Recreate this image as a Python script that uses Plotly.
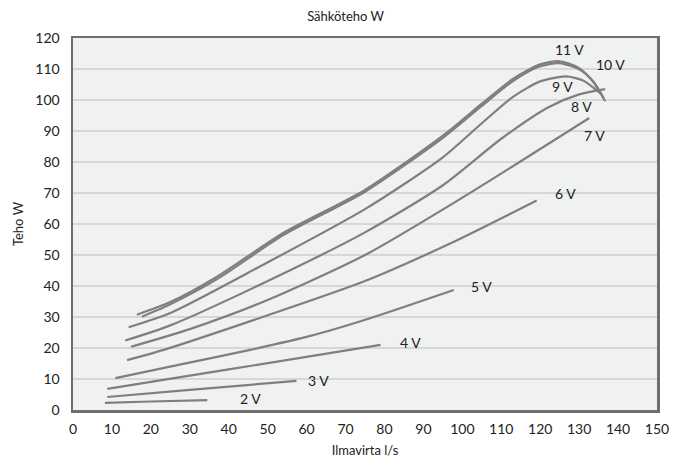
import plotly.graph_objects as go

# ---- data ----
labels = ["2 V", "3 V", "4 V", "5 V", "6 V", "7 V", "8 V", "9 V", "10 V", "11 V"]

v2_x = [8.2, 20, 34.5]
v2_y = [2.3, 2.75, 3.2]

v3_x = [8.8, 30, 57.4]
v3_y = [4.2, 6.5, 9.4]

v4_x = [8.8, 40, 79]
v4_y = [6.8, 13.1, 21.0]

v5_x = [10.9, 28, 45.5, 61, 76.3, 97.8]
v5_y = [10.3, 14.8, 19.4, 23.9, 29.6, 38.7]

v6_x = [13.9, 23.3, 48, 75, 97, 119.1]
v6_y = [16.1, 19.4, 29.7, 41.6, 53.8, 67.6]

v7_x = [14.9, 30, 50, 75, 100, 132.6]
v7_y = [20.4, 26.1, 35.5, 50.0, 68.5, 94.2]

v8_x = [13.4, 25, 48, 75, 95, 110, 122, 130, 136.7]
v8_y = [22.4, 27.3, 40.4, 57.3, 72.5, 87.5, 97.6, 101.8, 103.5]

v9_x = [14.3, 25, 48, 75, 95, 105, 113, 120, 126.6, 131, 135.8]
v9_y = [26.7, 31.3, 46.3, 64.8, 81.5, 92.5, 101.0, 106.0, 107.6, 106.3, 101.8]

v10_x = [17.7, 25, 37, 54, 75, 95, 105, 113, 119.8, 124.9, 130, 133.5, 136.3]
v10_y = [30.1, 34.1, 42.2, 56.4, 70.4, 87.8, 98.1, 106.1, 110.8, 111.9, 109.9, 106.2, 100.6]

v11_x = [16.4, 25, 37, 54, 75, 95, 105, 113, 119.8, 124.9, 130, 133.5, 136.7]
v11_y = [30.7, 34.8, 43.0, 57.1, 71.0, 88.5, 98.8, 106.8, 111.4, 112.5, 110.3, 106.0, 99.6]

xs = [v2_x, v3_x, v4_x, v5_x, v6_x, v7_x, v8_x, v9_x, v10_x, v11_x]
ys = [v2_y, v3_y, v4_y, v5_y, v6_y, v7_y, v8_y, v9_y, v10_y, v11_y]

x_ticks = list(range(0, 151, 10))
y_ticks = list(range(0, 121, 10))

# label offsets (pixels) relative to each curve's end point
label_dx = [31, 10, 17, 15, 16, -7, -36, -52, -10, -52]
label_dy = [1.5, 0, 2, 4, 7, -17.5, -17, 8, 34, 52]

FONT = "Lato, 'Open Sans', sans-serif"
LINE_COLOR = "#7f7f7f"
TEXT = "#222222"

fig = go.Figure()
for name, x, y in zip(labels, xs, ys):
    fig.add_trace(go.Scatter(
        x=x, y=y, mode="lines", name=name,
        line=dict(color=LINE_COLOR, width=2.2, shape="spline", smoothing=0.7),
        showlegend=False, hoverinfo="skip",
    ))

for name, x, y, dx, dy in zip(labels, xs, ys, label_dx, label_dy):
    fig.add_annotation(
        x=x[-1], y=y[-1], text=name, showarrow=False,
        xanchor="left", yanchor="middle", xshift=dx, yshift=dy,
        font=dict(family=FONT, size=14, color=TEXT),
    )

fig.update_layout(
    width=675, height=461,
    margin=dict(l=72.7, r=18, t=38.3, b=51, pad=0, autoexpand=False),
    paper_bgcolor="white",
    plot_bgcolor="#f0f1f1",
    font=dict(family=FONT, size=14, color=TEXT),
    title=dict(text="Sähköteho W", x=0.512, xref="container", xanchor="center",
               y=1 - 16 / 461, yref="container", yanchor="middle", automargin=False,
               font=dict(family=FONT, size=13, color=TEXT)),
)
fig.update_xaxes(
    range=[0, 150], tickvals=x_ticks, ticktext=[str(v) for v in x_ticks],
    showgrid=False, zeroline=False, automargin=False,
    showline=True, linecolor="#6e6e6e", linewidth=2.5, mirror=True,
    ticks="", ticklabelstandoff=5,
    tickfont=dict(family=FONT, size=14, color=TEXT),
    title=dict(text="Ilmavirta l/s", standoff=10,
               font=dict(family=FONT, size=13, color=TEXT)),
)
fig.update_yaxes(
    range=[0, 120], tickvals=y_ticks, ticktext=[str(v) for v in y_ticks],
    showgrid=True, gridcolor="#d6d8d8", gridwidth=1.5, zeroline=False, automargin=False,
    showline=True, linecolor="#6e6e6e", linewidth=2.5, mirror=True,
    ticks="", ticklabelstandoff=8,
    tickfont=dict(family=FONT, size=14, color=TEXT),
    title=dict(text="Teho W", standoff=9,
               font=dict(family=FONT, size=13, color=TEXT)),
)

fig.write_html("out.html", config={"displayModeBar": False, "staticPlot": True})

# remove the browser's default page margin so the figure sits at the top-left corner
with open("out.html", "r", encoding="utf-8") as f:
    html = f.read()
html = html.replace("<head>", "<head><style>html,body{margin:0;padding:0;overflow:hidden;}</style>", 1)
with open("out.html", "w", encoding="utf-8") as f:
    f.write(html)
